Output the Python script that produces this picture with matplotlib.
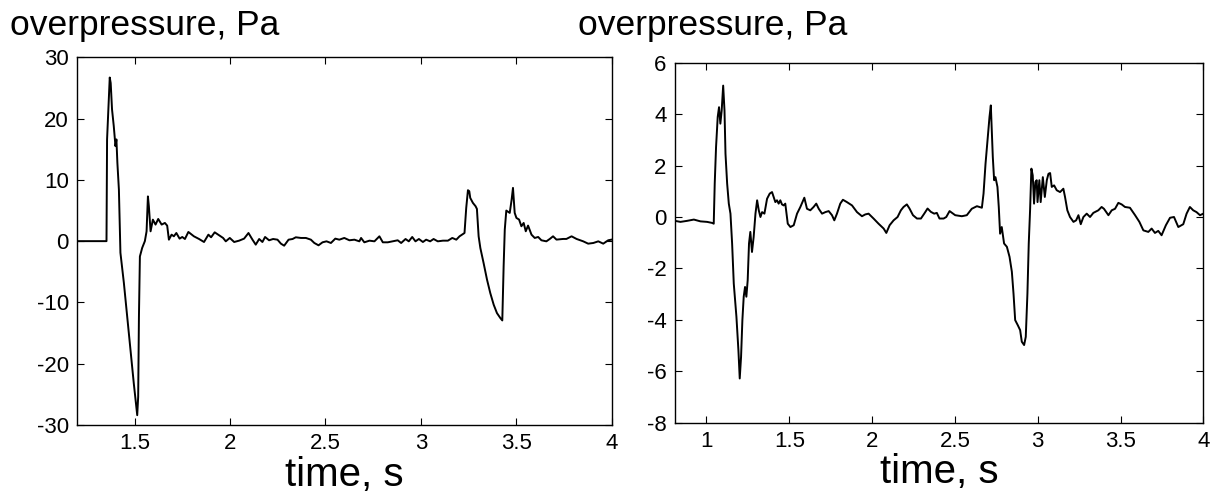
import matplotlib
matplotlib.use("Agg")
import matplotlib.pyplot as plt

plt.rcParams['font.family'] = ['Liberation Sans', 'DejaVu Sans']
plt.rcParams['axes.unicode_minus'] = False

# left record: time (s) and overpressure (Pa)
left_t = [1.20, 1.353, 1.356, 1.365, 1.370, 1.375, 1.382, 1.391, 1.400, 1.405,
          1.410, 1.418, 1.426, 1.444, 1.470, 1.496, 1.509, 1.514, 1.519, 1.523,
          1.528, 1.540, 1.554, 1.563, 1.570, 1.575, 1.584,
          1.596, 1.610, 1.624, 1.642, 1.659, 1.671, 1.680, 1.694, 1.706, 1.719,
          1.736, 1.750, 1.764, 1.782, 1.811, 1.838, 1.864, 1.887, 1.901, 1.920,
          1.943, 1.964, 1.978, 1.999, 2.022, 2.048, 2.074, 2.097, 2.118, 2.135,
          2.153, 2.170, 2.184, 2.205, 2.226, 2.249, 2.267, 2.284, 2.307, 2.328,
          2.345, 2.372, 2.398, 2.424, 2.442, 2.464, 2.485, 2.506, 2.529, 2.552,
          2.573, 2.599, 2.626, 2.652, 2.678, 2.687, 2.704, 2.731, 2.757, 2.783,
          2.801, 2.827, 2.853, 2.879, 2.897, 2.920, 2.937, 2.955, 2.972, 2.990,
          3.011, 3.028, 3.049, 3.067, 3.089, 3.116, 3.142, 3.165, 3.186, 3.203,
          3.229, 3.238, 3.247, 3.254, 3.259, 3.273, 3.287, 3.294, 3.303, 3.312,
          3.329, 3.347, 3.364, 3.382, 3.399, 3.417, 3.427, 3.434, 3.440, 3.448,
          3.466, 3.476, 3.483, 3.492, 3.501, 3.515, 3.527, 3.539, 3.550, 3.562,
          3.580, 3.597, 3.615, 3.632, 3.658, 3.676, 3.693, 3.711, 3.746, 3.763,
          3.790, 3.816, 3.851, 3.877, 3.904, 3.930, 3.956, 3.982, 4.000]
left_p = [0.0, 0.0, 16.6, 23.1, 26.7, 25.8, 21.5, 18.8, 15.5, 16.6,
          12.8, 8.4, -1.9, -6.8, -15.0, -23.2, -27.0, -28.4, -25.4, -12.3,
          -2.5, -1.1, 0.0, 1.6, 7.3, 5.7, 1.6,
          3.51, 2.70, 3.62, 2.70, 2.97, 2.53, 0.24, 1.06, 0.79, 1.33,
          0.41, 0.68, 0.35, 1.50, 0.79, 0.35, -0.14, 1.06, 0.63, 1.44,
          0.95, 0.52, -0.03, 0.52, -0.14, 0.08, 0.41, 1.33, 0.24, -0.57,
          0.35, -0.14, 0.68, 0.14, 0.35, 0.24, -0.41, -0.74, 0.24, 0.35,
          0.63, 0.52, 0.52, 0.24, -0.30, -0.68, -0.19, -0.03, -0.30, 0.41,
          0.24, 0.52, 0.14, 0.24, -0.03, 0.52, -0.19, 0.08, -0.03, 0.79,
          -0.19, -0.19, -0.03, 0.14, -0.30, 0.35, -0.03, 0.68, -0.03, 0.35,
          -0.14, 0.24, -0.03, 0.35, -0.03, 0.08, 0.08, 0.52, 0.24, 0.79,
          1.33, 5.42, 8.31, 8.15, 7.06, 6.24, 5.70, 5.26, 0.79, -1.12,
          -3.57, -6.29, -8.47, -10.38, -11.74, -12.56, -12.94, -4.11, 1.88, 4.99,
          4.61, 6.79, 8.69, 4.61, 3.79, 3.52, 2.43, 2.97, 1.61, 2.54,
          1.06, 0.52, 0.68, 0.14, -0.03, 0.36, 0.79, 0.25, 0.36, 0.36,
          0.79, 0.36, -0.03, -0.41, -0.30, -0.03, -0.41, 0.14, 0.25]

# right record
right_t = [0.81, 0.843, 0.883, 0.924, 0.964, 1.004, 1.034, 1.044, 1.050, 1.058,
           1.068, 1.076, 1.084, 1.092, 1.101, 1.109, 1.115, 1.125, 1.135, 1.145,
           1.155, 1.165, 1.181, 1.193, 1.201, 1.209, 1.217, 1.225, 1.233, 1.241,
           1.249, 1.257, 1.265, 1.275, 1.285, 1.296, 1.306, 1.316, 1.326, 1.336,
           1.350, 1.366, 1.382, 1.396, 1.406, 1.416, 1.426, 1.436, 1.446, 1.456,
           1.466, 1.476, 1.491, 1.507, 1.527, 1.547, 1.567, 1.591, 1.607, 1.627,
           1.647, 1.663, 1.678, 1.698, 1.718, 1.738, 1.758, 1.772, 1.788, 1.808,
           1.824, 1.848, 1.879, 1.909, 1.939, 1.959, 1.979, 2.009, 2.039, 2.070,
           2.086, 2.106, 2.130, 2.154, 2.174, 2.190, 2.210, 2.226, 2.247, 2.271,
           2.295, 2.315, 2.335, 2.355, 2.375, 2.391, 2.407, 2.432, 2.448, 2.468,
           2.502, 2.542, 2.572, 2.602, 2.633, 2.663, 2.673, 2.685, 2.697, 2.709,
           2.717, 2.723, 2.729, 2.737, 2.745, 2.757, 2.765, 2.773, 2.783, 2.797,
           2.814, 2.830, 2.844, 2.854, 2.864, 2.880, 2.894, 2.904, 2.918, 2.928,
           2.938, 2.946, 2.954, 2.962, 2.970, 2.978, 2.986, 2.994, 2.999, 3.010,
           3.018, 3.031, 3.043, 3.055, 3.065, 3.075, 3.085, 3.099, 3.115, 3.135,
           3.155, 3.165, 3.179, 3.195, 3.216, 3.232, 3.246, 3.260, 3.276, 3.296,
           3.316, 3.336, 3.366, 3.386, 3.400, 3.427, 3.447, 3.467, 3.487, 3.507,
           3.527, 3.557, 3.588, 3.614, 3.638, 3.668, 3.688, 3.708, 3.728, 3.748,
           3.774, 3.799, 3.823, 3.849, 3.879, 3.899, 3.919, 3.939, 3.959, 3.980,
           4.000]
right_p = [-0.15, -0.19, -0.15, -0.10, -0.17, -0.19, -0.23, -0.26, 1.30, 2.72,
           3.89, 4.27, 3.63, 4.14, 5.11, 4.14, 2.46, 1.30, 0.52, 0.13,
           -1.03, -2.59, -3.88, -5.18, -6.28, -5.44, -4.01, -3.10, -2.72, -3.10,
           -2.46, -1.03, -0.58, -1.36, -0.78, 0.13, 0.65, 0.26, 0.00, 0.19,
           0.13, 0.71, 0.91, 0.97, 0.78, 0.58, 0.65, 0.52, 0.65, 0.49,
           0.45, 0.52, -0.26, -0.39, -0.32, 0.13, 0.39, 0.75, 0.32, 0.26,
           0.39, 0.52, 0.32, 0.13, 0.19, 0.23, 0.07, -0.13, 0.13, 0.52,
           0.67, 0.58, 0.45, 0.19, 0.03, 0.10, 0.13, -0.06, -0.26, -0.45,
           -0.62, -0.32, -0.13, 0.00, 0.26, 0.39, 0.49, 0.33, 0.07, -0.06,
           -0.06, 0.13, 0.33, 0.20, 0.13, 0.16, -0.06, -0.06, 0.00, 0.23,
           0.07, 0.03, 0.07, 0.32, 0.42, 0.36, 0.91, 2.07, 2.98, 3.89,
           4.34, 3.37, 2.33, 1.43, 1.55, 1.17, 0.39, -0.65, -0.39, -1.03,
           -1.16, -1.55, -2.13, -2.98, -4.01, -4.21, -4.40, -4.85, -4.98, -4.66,
           -2.98, -1.03, 0.26, 1.88, 1.62, 0.52, 1.36, 1.43, 0.58, 1.43,
           0.58, 1.55, 0.78, 1.43, 1.68, 1.71, 1.17, 1.23, 1.04, 0.97,
           1.10, 0.78, 0.26, 0.00, -0.19, -0.13, 0.07, -0.28, 0.00, 0.13,
           0.00, 0.16, 0.26, 0.39, 0.32, 0.07, 0.26, 0.32, 0.55, 0.49,
           0.39, 0.36, 0.07, -0.19, -0.52, -0.58, -0.45, -0.62, -0.54, -0.71,
           -0.32, -0.03, 0.00, -0.39, -0.28, 0.13, 0.39, 0.26, 0.19, 0.07,
           0.13]

left_xticks = [1.5, 2, 2.5, 3, 3.5, 4]
left_xlabels = ['1.5', '2', '2.5', '3', '3.5', '4']
left_yticks = [-30, -20, -10, 0, 10, 20, 30]
right_xticks = [1, 1.5, 2, 2.5, 3, 3.5, 4]
right_xlabels = ['1', '1.5', '2', '2.5', '3', '3.5', '4']
right_yticks = [-8, -6, -4, -2, 0, 2, 4, 6]

fig = plt.figure(figsize=(12.25, 4.97), dpi=100)
ax1 = fig.add_axes([0.0631, 0.1449, 0.4362, 0.7398])
ax2 = fig.add_axes([0.5510, 0.1495, 0.4313, 0.7243])

ax1.plot(left_t, left_p, color='black', lw=1.4)
ax2.plot(right_t, right_p, color='black', lw=1.4)

ax1.set_xlim(1.2, 4)
ax1.set_ylim(-30, 30)
ax1.set_xticks(left_xticks)
ax1.set_xticklabels(left_xlabels)
ax1.set_yticks(left_yticks)

ax2.set_xlim(0.81, 4)
ax2.set_ylim(-8, 6)
ax2.set_xticks(right_xticks)
ax2.set_xticklabels(right_xlabels)
ax2.set_yticks(right_yticks)

for ax in (ax1, ax2):
    ax.tick_params(direction='in', top=True, right=True, length=5, width=0.8,
                   labelsize=16, pad=6)
    for s in ax.spines.values():
        s.set_linewidth(1.0)
    ax.set_xlabel('time, s', fontsize=29, labelpad=1)

fig.text(0.008, 0.930, 'overpressure, Pa', fontsize=25.5, ha='left', va='baseline')
fig.text(0.472, 0.930, 'overpressure, Pa', fontsize=25.5, ha='left', va='baseline')

fig.savefig('out.png', dpi=100)
